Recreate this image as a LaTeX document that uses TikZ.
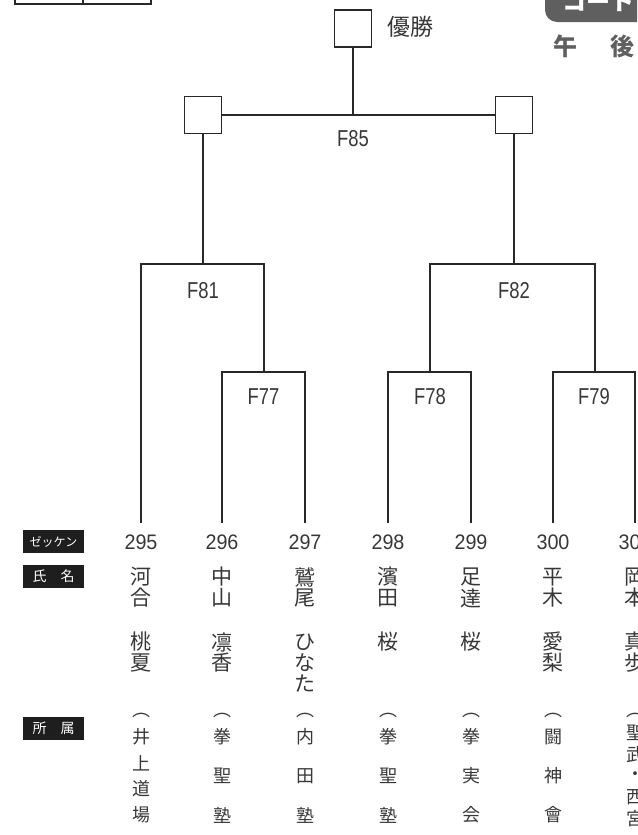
\documentclass[tikz,border=0pt]{standalone}
\usepackage{fontspec}
\usepackage{tikz}
\usetikzlibrary{positioning, calc}
\setmainfont{Liberation Sans}
\newfontfamily\jpfont{Noto Sans CJK JP}
\newfontfamily\matchfont[FakeStretch=0.8]{Liberation Sans}
\newfontfamily\numfont[FakeStretch=0.94]{Liberation Sans}
\definecolor{myline}{RGB}{40,40,40}
\definecolor{mytext}{RGB}{55,55,55}
\definecolor{mytab}{RGB}{30,30,30}
\definecolor{mygrey}{RGB}{95,95,95}
\tikzset{
  sqbox/.style={rectangle, draw=myline, fill=white, minimum size=37pt, inner sep=0pt, line width=1.5pt},
  line/.style={line width=1.5pt, color=myline},
  matchlbl/.style={font=\matchfont\fontsize{23}{23}\selectfont, text=mytext, inner sep=0pt},
  numlbl/.style={font=\numfont\fontsize{21}{21}\selectfont, text=mytext, inner sep=0pt},
  namechar/.style={font=\jpfont\fontsize{21}{21}\selectfont, text=mytext, inner sep=0pt},
  affchar/.style={font=\jpfont\fontsize{18}{18}\selectfont, text=mytext, inner sep=0pt},
  tabhead/.style={rectangle, fill=mytab, text=white, minimum width=61pt, minimum height=23pt, inner sep=0pt, font=\jpfont\fontsize{13}{13}\selectfont}
}

\begin{document}
\begin{tikzpicture}[x=1pt, y=-1pt]
  \useasboundingbox (0,0) rectangle (637,835);
  \clip (0,0) rectangle (637,835);

  % corner table and court tab
  \draw[line] (15,-10) rectangle (151,4);
  \draw[line] (83,-10) -- (83,4);
  \fill[mygrey, rounded corners=12pt] (545,-30) rectangle (700,22);
  \node[font=\jpfont\bfseries\fontsize{24}{24}\selectfont, text=white, anchor=west, inner sep=0pt] (court) at (562,1) {コート};
  \node[font=\jpfont\bfseries\fontsize{24}{24}\selectfont, text=mygrey, anchor=west, inner sep=0pt] (pm) at (553,46) {午\hspace{33pt}後};

  % final
  \node[sqbox] (champ) at (353,28.5) {};
  \node[namechar, font=\jpfont\fontsize{23}{23}\selectfont, anchor=west] (champlbl) at (387,27) {優勝};
  \node[sqbox] (semiL) at (203,115) {};
  \node[sqbox] (semiR) at (514,115) {};
  \draw[line] (semiL) -- (semiR);
  \draw[line] (champ) -- (champ |- semiL);
  \node[matchlbl] (f85) at (353,139) {F85};

  % legs of the entrants
  \foreach \n/\x in {295/141, 296/222, 297/305, 298/388, 299/471, 300/553, 301/635}
    \coordinate (leg\n) at (\x,523);

  % first round
  \draw[line] (leg296) |- (264,372) coordinate (m77) -| (leg297);
  \draw[line] (leg298) |- (430,372) coordinate (m78) -| (leg299);
  \draw[line] (leg300) |- (595,372) coordinate (m79) -| (leg301);
  \node[matchlbl] (f77) at (263.5,397) {F77};
  \node[matchlbl] (f78) at (430,397) {F78};
  \node[matchlbl] (f79) at (594,397) {F79};

  % second round
  \draw[line] (leg295) |- (203,264) coordinate (m81) -| (m77);
  \draw[line] (m78) |- (514,264) coordinate (m82) -| (m79);
  \draw[line] (semiL) -- (m81);
  \draw[line] (semiR) -- (m82);
  \node[matchlbl] (f81) at (203,291) {F81};
  \node[matchlbl] (f82) at (514,291) {F82};

  % row heads
  \node[tabhead, font=\jpfont\fontsize{12}{12}\selectfont] (hnum) at (53.5,541.5) {ゼッケン};
  \node[tabhead, font=\jpfont\fontsize{14}{14}\selectfont] (hname) at (53.5,576.5) {氏　名};
  \node[tabhead, font=\jpfont\fontsize{14}{14}\selectfont] (haff) at (53.5,728.5) {所　属};

  % entrants
  \foreach \num/\x/\sur/\giv/\aff/\na in {
      295/141/{河,合}/{桃,夏}/{井,上,道,場}/4,
      296/222/{中,山}/{凛,香}/{拳,聖,塾}/3,
      297/305/{鷲,尾}/{ひ,な,た}/{内,田,塾}/3,
      298/388/{濱,田}/{桜}/{拳,聖,塾}/3,
      299/471/{足,達}/{桜}/{拳,実,会}/3,
      300/553/{平,木}/{愛,梨}/{闘,神,會}/3,
      301/635/{岡,本}/{真,歩}/{聖,武,・,西,宮}/5} {
    \node[numlbl] (n\num) at (\x,542) {\num};
    \foreach \c [count=\i] in \sur
      \node[namechar] (s\num-\i) at (\x,{577+21*(\i-1)}) {\c};
    \foreach \c [count=\i] in \giv
      \node[namechar] (g\num-\i) at (\x,{642+21*(\i-1)}) {\c};
    \pgfmathsetmacro\affspan{\na>4 ? 86 : 78}
    \node[affchar] (o\num) at (\x,715) {︵};
    \foreach \c [count=\i] in \aff
      \node[affchar] (a\num-\i) at (\x,{776-\affspan/2+\affspan*(\i-1)/(\na-1)}) {\c};
    \node[affchar] (c\num) at (\x,845) {︶};
  }
\end{tikzpicture}
\end{document}
